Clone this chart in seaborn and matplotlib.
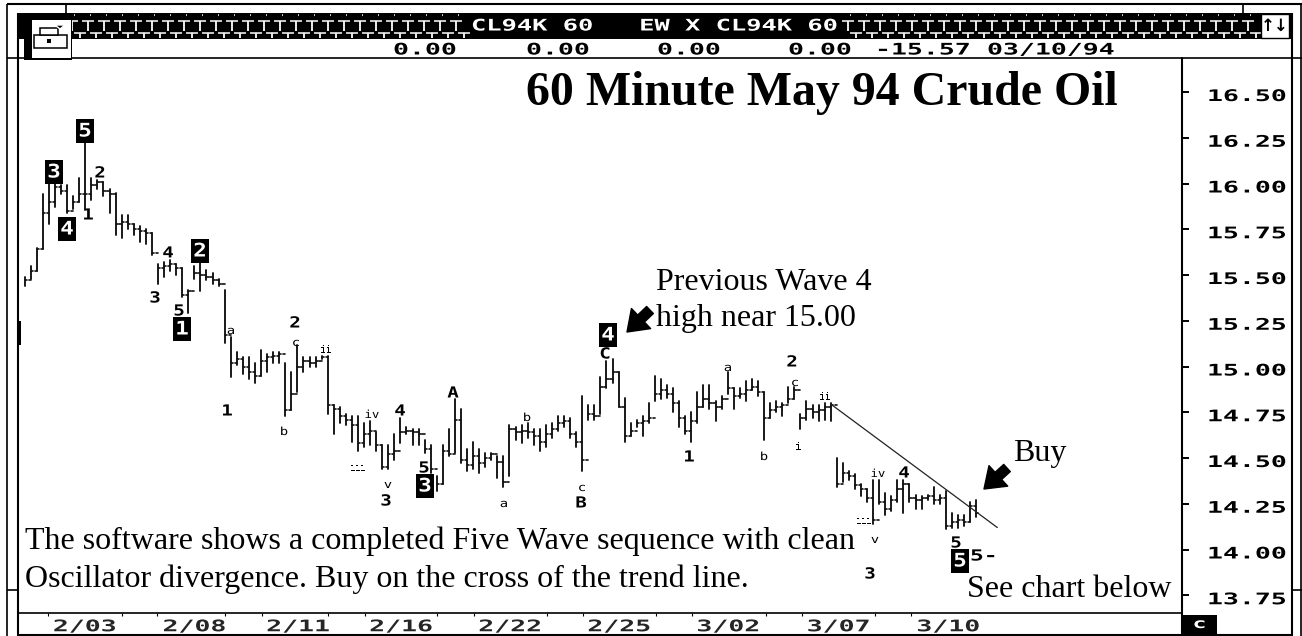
import numpy as np
import pandas as pd
import matplotlib
matplotlib.use("Agg")
import matplotlib.pyplot as plt
from matplotlib.patches import Rectangle, Polygon
from matplotlib.patheffects import AbstractPathEffect
from matplotlib.transforms import Affine2D
import seaborn as sns

# ---------- data ----------
highs = [15.49,15.55,15.65,15.94,16.00,16.00,15.99,15.99,15.93,16.03,16.22,16.03,16.02,16.01,15.97,15.95,15.83,15.83,15.78,15.77,
15.75,15.73,15.56,15.57,15.58,15.56,15.54,15.42,15.55,15.57,15.53,15.51,15.48,15.42,15.16,15.08,15.05,15.05,15.02,15.09,
15.07,15.08,15.08,15.02,14.97,15.12,15.05,15.05,15.05,15.06,15.06,14.79,14.78,14.74,14.73,14.73,14.69,14.70,14.64,14.57,
14.57,14.63,14.72,14.67,14.66,14.66,14.60,14.57,14.40,14.57,14.66,14.82,14.77,14.55,14.59,14.55,14.53,14.53,14.51,14.51,
14.68,14.67,14.68,14.69,14.66,14.66,14.68,14.69,14.73,14.73,14.72,14.64,14.84,14.79,14.79,14.94,15.03,15.04,14.97,14.83,
14.69,14.71,14.73,14.80,14.95,14.93,14.90,14.88,14.81,14.73,14.75,14.86,14.90,14.90,14.81,14.84,14.97,14.88,14.88,14.92,
14.93,14.92,14.86,14.80,14.81,14.80,14.89,14.89,14.74,14.81,14.79,14.79,14.80,14.80,14.50,14.47,14.43,14.41,14.36,14.33,
14.38,14.38,14.31,14.29,14.38,14.38,14.36,14.30,14.29,14.30,14.34,14.30,14.32,14.20,14.19,14.19,14.26,14.27]
lows = [15.44,15.48,15.52,15.64,15.78,15.87,15.94,15.84,15.86,15.90,15.86,15.91,15.97,15.93,15.84,15.72,15.70,15.75,15.72,15.68,
15.67,15.61,15.45,15.49,15.52,15.50,15.38,15.29,15.48,15.41,15.47,15.45,15.44,15.13,14.94,15.01,14.96,14.93,14.91,14.95,
14.97,15.02,15.02,14.73,14.76,14.86,14.97,15.00,15.00,15.04,14.74,14.63,14.69,14.68,14.59,14.54,14.56,14.57,14.54,14.44,
14.44,14.49,14.58,14.63,14.57,14.57,14.53,14.42,14.32,14.36,14.51,14.53,14.47,14.43,14.44,14.42,14.45,14.49,14.39,14.34,
14.40,14.60,14.58,14.61,14.57,14.54,14.56,14.61,14.65,14.67,14.61,14.56,14.43,14.71,14.71,14.74,14.88,14.91,14.78,14.59,
14.62,14.67,14.62,14.69,14.81,14.82,14.83,14.75,14.67,14.63,14.59,14.69,14.78,14.77,14.70,14.77,14.85,14.77,14.83,14.81,
14.87,14.84,14.60,14.72,14.75,14.73,14.80,14.82,14.66,14.71,14.72,14.70,14.71,14.70,14.34,14.37,14.38,14.33,14.29,14.26,
14.14,14.25,14.19,14.21,14.26,14.20,14.26,14.22,14.22,14.27,14.25,14.25,14.11,14.12,14.12,14.13,14.15,14.18]
closes = [15.47,15.52,15.64,15.84,15.90,15.98,15.96,15.85,15.90,15.94,15.94,15.99,16.01,15.96,15.94,15.78,15.79,15.78,15.75,15.74,
15.73,15.62,15.54,15.55,15.56,15.54,15.39,15.41,15.51,15.50,15.49,15.47,15.45,15.17,15.02,15.04,15.00,14.97,14.95,15.03,
15.05,15.06,15.07,14.76,14.85,15.00,15.03,15.02,15.03,15.05,14.79,14.77,14.73,14.71,14.68,14.58,14.63,14.65,14.57,14.45,
14.52,14.54,14.64,14.65,14.64,14.63,14.55,14.44,14.36,14.54,14.52,14.71,14.49,14.46,14.51,14.47,14.50,14.52,14.48,14.37,
14.66,14.64,14.65,14.64,14.62,14.59,14.63,14.66,14.69,14.70,14.63,14.59,14.49,14.74,14.73,14.89,14.93,14.97,14.78,14.62,
14.65,14.69,14.70,14.72,14.85,14.87,14.85,14.80,14.72,14.65,14.70,14.78,14.82,14.80,14.78,14.82,14.88,14.84,14.85,14.87,
14.89,14.86,14.72,14.76,14.78,14.79,14.82,14.87,14.72,14.77,14.75,14.76,14.78,14.79,14.36,14.42,14.40,14.35,14.33,14.28,
14.16,14.26,14.22,14.27,14.33,14.36,14.28,14.27,14.28,14.29,14.27,14.28,14.13,14.15,14.16,14.15,14.24,14.20]

trend_x = [133.2, 160.5]
trend_y = [14.79, 14.12]

price_ticks = [16.50,16.25,16.00,15.75,15.50,15.25,15.00,14.75,14.50,14.25,14.00,13.75]
price_labels = ["16.50","16.25","16.00","15.75","15.50","15.25","15.00","14.75","14.50","14.25","14.00","13.75"]
date_ticks = [9.7,27.8,44.9,61.9,79.9,97.9,115.9,134.1,152.2]
date_labels = ["2/03","2/08","2/11","2/16","2/22","2/25","3/02","3/07","3/10"]
minor_ticks = [3.8,16,21.8,33,39.2,50,56.2,68,74.1,86.2,92.1,104.2,110.1,122.3,128.3,140.3,146.3]

box_labels = [("5",85,131),("3",54,172),("4",67,229),("2",200,251),("1",182,329),("3",425,486),("4",608,335),("5",960,561)]
big_labels = [("2",100,173),("1",88,215),("4",168,253),("3",155,298),("5",179,311),("2",295,323),("1",227,411),("4",400,411),
              ("3",386,501),("5",424,468),("A",453,393),("B",581,503),("C",605,354),("2",792,362),("1",689,457),("4",904,473),
              ("3",870,574),("5",956,543)]
small_labels = [("a",231,331),("c",296,343),("ii",326,350),("b",284,432),("iv",372,415),("iii",358,468),("v",388,485),
                ("b",527,418),("a",504,504),("c",582,488),("a",728,368),("c",795,383),("ii",825,397),("b",764,457),("i",798,447),
                ("iii",864,521),("iv",878,474),("v",875,540)]

# ---------- helpers ----------
class Stretch(AbstractPathEffect):
    """Widen text horizontally about a pixel x, as the wide bitmap font of the terminal."""
    def __init__(self, sx, cx, dy=0):
        super().__init__()
        self.t = Affine2D().translate(-cx, 0).scale(sx, 1).translate(cx, dy)
    def draw_path(self, renderer, gc, tpath, affine, rgbFace=None):
        renderer.draw_path(gc, tpath, affine + self.t, rgbFace)

MONO = "DejaVu Sans Mono"
SERIF = "Liberation Serif"

sns.set_theme(style="white")
W, H = 1302, 636
fig = plt.figure(figsize=(W/100, H/100), dpi=100, facecolor="white")

# ---------- price chart ----------
ax = fig.add_axes([19/W, (H-613)/H, (1182-19)/W, (613-58)/H])
ax.set_facecolor("white")
idx = np.arange(len(highs))
stems = pd.DataFrame({"bar": np.r_[idx, idx], "x": np.r_[idx, idx], "price": np.r_[highs, lows]})
sns.lineplot(data=stems, x="x", y="price", units="bar", estimator=None, sort=False,
             color="#111111", linewidth=1.35, legend=False, ax=ax)
cl = np.array(closes)
right = pd.DataFrame({"bar": np.r_[idx, idx], "x": np.r_[idx, idx+0.36], "price": np.r_[cl, cl]})
sns.lineplot(data=right, x="x", y="price", units="bar", estimator=None, sort=False,
             color="#111111", linewidth=1.2, legend=False, ax=ax)
left = pd.DataFrame({"bar": np.r_[idx[1:], idx[1:]], "x": np.r_[idx[1:], idx[1:]-0.36], "price": np.r_[cl[:-1], cl[:-1]]})
sns.lineplot(data=left, x="x", y="price", units="bar", estimator=None, sort=False,
             color="#111111", linewidth=1.2, legend=False, ax=ax)
sns.lineplot(x=trend_x, y=trend_y, color="#222222", linewidth=0.9, ax=ax)

ax.set_xlim((19-24.7)/6.06, (1182-24.7)/6.06)
ax.set_ylim(16.5-(613-92)/183, 16.5+(92-58)/183)
ax.set_xlabel(""); ax.set_ylabel("")
ax.set_yticks(price_ticks); ax.set_yticklabels(price_labels)
ax.set_xticks(date_ticks); ax.set_xticklabels(date_labels)
ax.set_xticks(minor_ticks, minor=True)
ax.yaxis.tick_right()
ax.tick_params(axis="y", which="major", direction="out", length=5, width=1.4, pad=13, color="black", labelcolor="black", right=True, left=False)
ax.tick_params(axis="x", which="major", direction="out", length=2.5, width=1.6, pad=2, color="black")
ax.tick_params(axis="x", which="minor", direction="out", length=2.5, width=0.8, color="black", bottom=True)
for s in ax.spines.values():
    s.set_color("black"); s.set_linewidth(1.2)
ax.spines["left"].set_visible(False)
ax.spines["top"].set_visible(False)
fig.canvas.draw()
for lab in ax.get_yticklabels():
    lab.set_fontfamily(MONO); lab.set_fontweight("bold"); lab.set_fontsize(11.5)
    lab.set_path_effects([Stretch(1.66, 1207, -3)])
for lab, t in zip(ax.get_xticklabels(), date_ticks):
    lab.set_fontfamily(MONO); lab.set_fontweight("bold"); lab.set_fontsize(11.5)
    cx = ax.transData.transform((t, 14))[0]
    lab.set_path_effects([Stretch(1.66, cx-2, 0)])

# ---------- terminal frame, overlay in pixel units ----------
ov = fig.add_axes([0, 0, 1, 1], facecolor="none")
ov.set_xlim(0, W); ov.set_ylim(H, 0); ov.axis("off")

def line(x0, y0, x1, y1, lw=1.2, c="black"):
    ov.plot([x0, x1], [y0, y1], color=c, lw=lw, solid_capstyle="butt")

def rect(x0, y0, x1, y1, fc="black", ec="none", lw=0, z=2):
    ov.add_patch(Rectangle((x0, y0), x1-x0, y1-y0, facecolor=fc, edgecolor=ec, linewidth=lw, zorder=z))

def wide(s, x, y, size=11.5, sx=1.66, color="black", weight="bold", ha="center", z=5):
    ov.text(x, y, s, family=MONO, weight=weight, fontsize=size, color=color, ha=ha, va="center", zorder=z,
            path_effects=[Stretch(sx, x)])

def serif(s, x, y, size, weight="normal", ha="left"):
    ov.text(x, y, s, family=SERIF, fontsize=size, weight=weight, color="black", ha=ha, va="baseline", zorder=6)

# outer lines
line(7, 4, 1302, 4, 1.5)
line(7, 4, 7, 636); line(18, 13, 18, 636, 1.5)
line(1292, 13, 1292, 636, 1.5); line(1301, 4, 1301, 636, 1.2)
line(7, 57.5, 1302, 57.5, 1.2)
line(66, 4, 66, 13); line(1243, 4, 1243, 13)
line(7, 590, 18, 590); line(1292, 590, 1302, 590)
line(18, 635, 1292, 635, 1.5)
line(1182, 58, 1182, 636, 1.5)
rect(18.5, 321, 20.5, 345)

# title bar
rect(18, 13, 1291, 38.5, z=1)
for x0 in list(range(72, 470, 16)) + list(range(848, 1256, 16)):
    line(x0-6, 21, x0+6, 21, 1.1, "white")
    line(x0, 21, x0, 31, 1.3, "white")
    line(x0+2, 14.5, x0+3, 14.5, 1.1, "white")
    line(x0+2, 33, x0+14, 33, 1.1, "white")
    line(x0+8, 33, x0+8, 38, 1.3, "white")
wide("CL94K 60   EW X CL94K 60", 471, 26, size=11.5, sx=1.59, color="white", ha="left")
rect(18.5, 38.5, 1291, 57, fc="white", z=1)
for s, x in [("0.00", 393), ("0.00", 526), ("0.00", 657), ("0.00", 788), ("-15.57", 875), ("03/10/94", 987)]:
    wide(s, x, 50, ha="left")

# toolbox and arrow buttons
rect(24, 19, 72, 60, fc="black", z=3)
rect(32, 19.5, 71, 58, fc="white", z=3)
ov.add_patch(Rectangle((34, 35), 33, 13, fc="white", ec="black", lw=1.1, zorder=4))
ov.add_patch(Rectangle((40, 28), 18, 7, fc="white", ec="black", lw=1.1, zorder=4))
line(34, 41, 67, 41, 1.0); rect(47, 39, 51, 43, z=5)
ov.add_patch(Polygon([(55, 25), (65, 25), (60, 29)], closed=True, fc="black", zorder=5))
rect(1261, 14, 1289, 38, fc="white", ec="black", lw=1, z=3)
ov.text(1275, 26, "↑↓", family="DejaVu Sans", weight="bold", fontsize=12, ha="center", va="center", color="black", zorder=5)

# "c" tab
rect(1182, 615, 1217, 636)
wide("c", 1199.5, 624, size=10, color="white")

# wave counts
for s, x, y in box_labels:
    rect(x-9, y-12, x+9, y+12, z=4)
    wide(s, x, y, size=13.5, sx=1.2, color="white")
for s, x, y in big_labels:
    wide(s, x, y, size=11, sx=1.25)
roman_sx = {"i": 1.0, "ii": 0.85, "iii": 0.75, "iv": 1.1}
for s, x, y in small_labels:
    wide(s, x, y, size=8, sx=roman_sx.get(s, 1.25), weight="normal")
wide("5-", 970, 556, size=11, sx=1.5, ha="left")

# captions
serif("60 Minute May 94 Crude Oil", 526, 105, 34.5, weight="bold")
serif("Previous Wave 4", 656, 290, 23)
serif("high near 15.00", 656, 326, 23)
serif("The software shows a completed Five Wave sequence with clean", 25, 549, 23)
serif("Oscillator divergence. Buy on the cross of the trend line.", 25, 587, 23)
serif("See chart below", 967, 597, 23)
serif("Buy", 1013, 461, 23)

for tip, tail in [((627, 332), (650, 310)), ((984, 489), (1007, 468))]:
    ov.annotate("", xy=tip, xytext=tail, zorder=6,
                arrowprops=dict(facecolor="black", edgecolor="black", width=7, headwidth=20, headlength=14, shrink=0))

fig.savefig("out.png", dpi=100)
